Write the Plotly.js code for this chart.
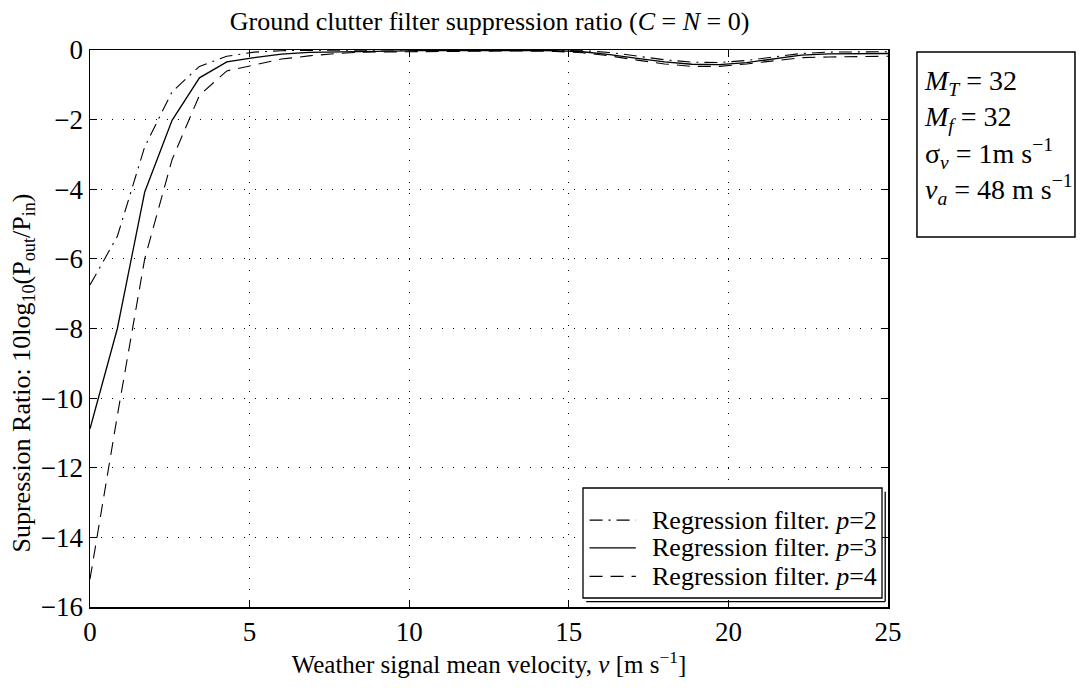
<!DOCTYPE html>
<html>
<head>
<meta charset="utf-8">
<script src="https://cdn.plot.ly/plotly-3.0.1.min.js"></script>
<style>html,body{margin:0;padding:0;background:#fff;}#chart{width:1082px;height:694px;}</style>
</head>
<body>
<div id="chart"></div>
<script>
// Weather signal mean velocity (m/s)
const velocity = [0, 0.857, 1.714, 2.571, 3.429, 4.286, 5.143, 6.0, 6.857, 7.714, 8.571, 9.429, 10.286, 11.143, 12.0, 12.857, 13.714, 14.571, 15.429, 16.286, 17.143, 18.0, 18.857, 19.714, 20.571, 21.429, 22.286, 23.143, 24.0, 24.857, 25];
// Suppression ratio (dB) for regression filters of order p
const ratioP2 = [-6.75, -5.35, -2.78, -1.2, -0.47, -0.18, -0.06, -0.02, -0.01, 0, 0, 0, 0, 0, 0, 0, 0, 0, -0.02, -0.07, -0.17, -0.28, -0.35, -0.36, -0.3, -0.2, -0.1, -0.06, -0.05, -0.05, -0.05];
const ratioP3 = [-10.88, -8.0, -4.08, -2.02, -0.8, -0.34, -0.22, -0.12, -0.07, -0.05, -0.04, -0.03, -0.02, -0.02, -0.02, -0.02, -0.02, -0.02, -0.05, -0.13, -0.24, -0.34, -0.41, -0.42, -0.36, -0.26, -0.15, -0.11, -0.1, -0.1, -0.1];
const ratioP4 = [-15.2, -10.5, -6.0, -3.15, -1.3, -0.6, -0.43, -0.26, -0.17, -0.1, -0.06, -0.05, -0.04, -0.03, -0.03, -0.03, -0.03, -0.04, -0.08, -0.17, -0.29, -0.4, -0.47, -0.47, -0.4, -0.3, -0.22, -0.2, -0.19, -0.18, -0.18];
const seriesNames = ['Regression filter. <i>p</i>=2', 'Regression filter. <i>p</i>=3', 'Regression filter. <i>p</i>=4'];
const xTicks = [0, 5, 10, 15, 20, 25];
const yTicks = [-16, -14, -12, -10, -8, -6, -4, -2, 0];

const FONT = 'Liberation Serif, Times New Roman, serif';
const dashes = ['13px,6px,2px,6px', 'solid', '13px,8px'];
const widths = [1.1, 1.3, 1.1];
const series = [ratioP2, ratioP3, ratioP4];

const traces = series.map((ys, i) => ({
  x: velocity, y: ys, name: seriesNames[i], mode: 'lines', showlegend: false,
  line: {color: '#000', width: widths[i], dash: dashes[i]}
}));

// legend drawn as a MATLAB-style box (paper coordinates of the plot area)
const legBox = {x0: 0.6178, x1: 0.9925, y0: 0.0162, y1: 0.2136};
const legRows = [0.156, 0.106, 0.055];
const sh = {dx: 0.004, dy: 0.0065};
const shapes = [
  {type: 'rect', xref: 'paper', yref: 'paper', x0: legBox.x0, x1: legBox.x1, y0: legBox.y0, y1: legBox.y1, line: {color: '#000', width: 1.3}, fillcolor: '#fff', layer: 'above'},
  {type: 'line', xref: 'paper', yref: 'paper', x0: legBox.x1 + sh.dx, x1: legBox.x1 + sh.dx, y0: legBox.y0 - sh.dy, y1: legBox.y1 - sh.dy, line: {color: '#000', width: 1.3}, layer: 'above'},
  {type: 'line', xref: 'paper', yref: 'paper', x0: legBox.x0 + sh.dx, x1: legBox.x1 + sh.dx, y0: legBox.y0 - sh.dy, y1: legBox.y0 - sh.dy, line: {color: '#000', width: 1.3}, layer: 'above'},
  // parameter box on the right
  {type: 'rect', xref: 'paper', yref: 'paper', x0: 1.0363, x1: 1.2343, y0: 0.6643, y1: 0.9964, line: {color: '#000', width: 1.5}, fillcolor: '#fff', layer: 'above'}
];
const annotations = [];
legRows.forEach((yy, i) => {
  shapes.push({type: 'line', xref: 'paper', yref: 'paper', x0: 0.626, x1: 0.684, y0: yy, y1: yy, line: {color: '#000', width: widths[i], dash: dashes[i]}, layer: 'above'});
  annotations.push({xref: 'paper', yref: 'paper', x: 0.9885, y: yy, xanchor: 'right', yanchor: 'middle', showarrow: false, text: seriesNames[i], font: {family: FONT, size: 26, color: '#000'}});
});
annotations.push({
  xref: 'paper', yref: 'paper', x: -0.0852, y: 0.5, xanchor: 'center', yanchor: 'middle', textangle: -90, showarrow: false, yshift: -45,
  text: 'Supression Ratio: 10log<sub>10</sub>(P<sub>out</sub>/P<sub>in</sub>)', font: {family: FONT, size: 26, color: '#000'}
});
annotations.push({
  xref: 'paper', yref: 'paper', x: 1.0426, y: 0.8447, xanchor: 'left', yanchor: 'middle',
  align: 'left', showarrow: false,
  text: '<i>M</i><sub><i>T</i></sub> = 32<br><i>M</i><sub><i>f</i></sub> = 32<br>\u03C3<sub><i>v</i></sub> = 1m s<sup>\u22121</sup><br><i>v</i><sub><i>a</i></sub> = 48 m s<sup>\u22121</sup>',
  font: {family: FONT, size: 28, color: '#000'}
});

const axisCommon = {
  showline: true, linecolor: '#000', linewidth: 1.5, mirror: 'ticks',
  ticks: 'inside', ticklen: 7, tickcolor: '#000', tickwidth: 1,
  showgrid: true, gridcolor: '#000', gridwidth: 1, griddash: '1px,10px',
  zeroline: false, tickfont: {family: FONT, size: 27, color: '#000'}
};

const layout = {
  width: 1082, height: 694,
  paper_bgcolor: '#fff', plot_bgcolor: '#fff',
  margin: {l: 90, r: 194, t: 50, b: 87},
  font: {family: FONT, color: '#000', size: 26},
  showlegend: false,
  title: {text: 'Ground clutter filter suppression ratio (<i>C</i> = <i>N</i> = 0)', font: {family: FONT, size: 26, color: '#000'}, x: 0.4525, xanchor: 'center', y: 0.97, yanchor: 'middle'},
  xaxis: Object.assign({}, axisCommon, {
    range: [0, 25], tickvals: xTicks, ticktext: xTicks.map(String),
    title: {text: 'Weather signal mean velocity, <i>v</i> [m s<sup>\u22121</sup>]', font: {family: FONT, size: 25, color: '#000'}, standoff: 6}
  }),
  yaxis: Object.assign({}, axisCommon, {
    range: [-16, 0], tickvals: yTicks, ticktext: yTicks.map(v => v < 0 ? '\u2212' + Math.abs(v) : String(v))
  }),
  shapes: shapes,
  annotations: annotations
};

Plotly.newPlot('chart', traces, layout, {displayModeBar: false, staticPlot: true});
</script>
</body>
</html>
